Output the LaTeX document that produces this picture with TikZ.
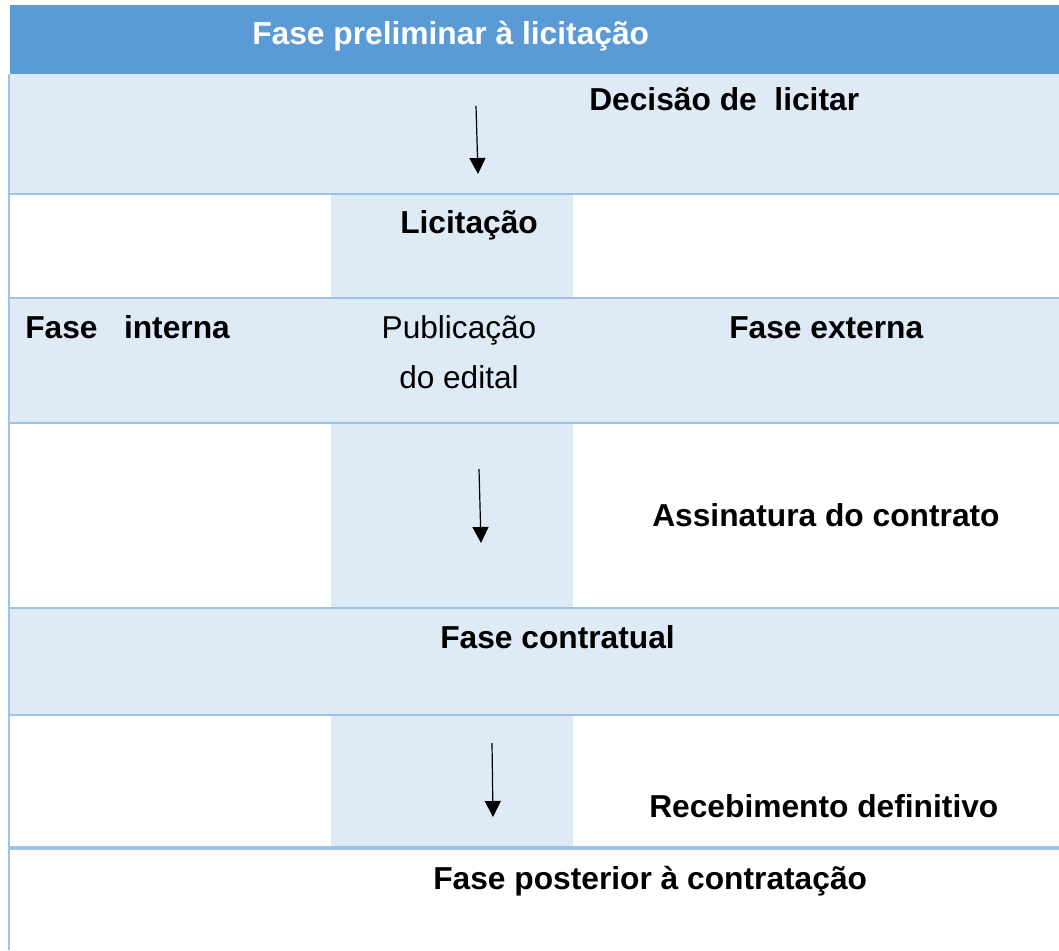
\documentclass[tikz,border=0pt]{standalone}
\usepackage{fontspec}
\setmainfont{Liberation Sans}
\usetikzlibrary{arrows.meta}
\definecolor{hdrblue}{HTML}{5B9BD5}
\definecolor{rowblue}{HTML}{DEEAF6}
\definecolor{lineblue}{HTML}{9DC3E6}
\tikzset{
  lbl/.style={inner sep=0pt,anchor=base west,font=\fontsize{23.8}{37.5}\selectfont\bfseries},
  plain/.style={inner sep=0pt,anchor=base,font=\fontsize{23.7}{37.5}\selectfont},
  rule/.style={lineblue,line width=1.5pt},
  flow/.style={-{Triangle[length=12pt,width=12pt]},line width=0.9pt}
}
\begin{document}
\begin{tikzpicture}[x=0.75pt,y=-0.75pt]

    \def\W{1059}
    \def\colL{331}
    \def\colR{573}
    \useasboundingbox (0,0) rectangle (\W,950);

    %fill the bands
    \fill[hdrblue] (10,5) rectangle (\W,74);
    \fill[rowblue] (10,74) rectangle (\W,194);
    \fill[rowblue] (\colL,195) rectangle (\colR,298);
    \fill[rowblue] (10,298) rectangle (\W,423);
    \fill[rowblue] (\colL,424) rectangle (\colR,608);
    \fill[rowblue] (10,608) rectangle (\W,715);
    \fill[rowblue] (\colL,716) rectangle (\colR,847);

    %draw the rules between the bands
    \foreach \y in {194,298,423,608,715}
        \draw[rule] (9,\y) -- (\W,\y);
    \draw[rule,line width=2.3pt] (9,848) -- (\W,848);
    \draw[rule] (9,74) -- (9,950);

    %draw labels
    \node[lbl,white] (hdr) at (252,44) {Fase preliminar à licitação};
    \node[lbl] (decisao) at (589,110) {Decisão de\ \ licitar};
    \node[lbl] (licitacao) at (400,233) {Licitação};
    \node[lbl] (interna) at (25,338) {Fase\ \ \ interna};
    \node[plain] (publicacao) at (459,338) {Publicação};
    \node[plain] (edital) at (459,388) {do edital};
    \node[lbl] (externa) at (729,338) {Fase externa};
    \node[lbl] (assinatura) at (652,526) {Assinatura do contrato};
    \node[lbl] (contratual) at (440,648) {Fase contratual};
    \node[lbl] (recebimento) at (649,817) {Recebimento definitivo};
    \node[lbl] (posterior) at (433,889) {Fase posterior à contratação};

    %arrows down the middle column
    \coordinate (a1s) at (476,106);
    \coordinate (a1e) at (478,174);
    \coordinate (a2s) at (479,469);
    \coordinate (a2e) at (481,543);
    \coordinate (a3s) at (492,743);
    \coordinate (a3e) at (493,817);
    \draw[flow] (a1s) -- (a1e);
    \draw[flow] (a2s) -- (a2e);
    \draw[flow] (a3s) -- (a3e);

\end{tikzpicture}
\end{document}
